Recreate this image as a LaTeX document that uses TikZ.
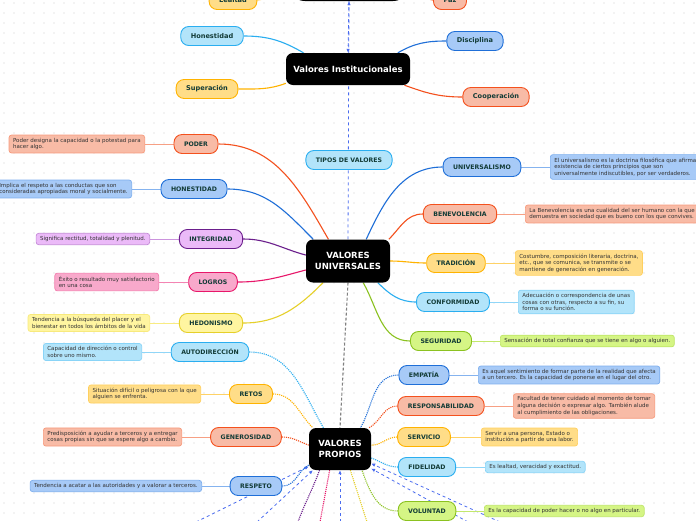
\documentclass[tikz,border=0pt]{standalone}
\usepackage{fontspec}
\setmainfont{DejaVu Sans}
\usetikzlibrary{arrows.meta, positioning, backgrounds}

\definecolor{txt}{HTML}{123B36}
\definecolor{notatxt}{HTML}{333333}
\definecolor{dotc}{HTML}{CFCFCF}
\definecolor{dashblue}{HTML}{4A6CF0}
\definecolor{salmonF}{HTML}{F8BBA6}\definecolor{salmonD}{HTML}{F4511E}
\definecolor{blueF}{HTML}{A7CAF7}\definecolor{blueD}{HTML}{1F6FD8}
\definecolor{cyanF}{HTML}{B2E4FA}\definecolor{cyanD}{HTML}{2AAEF0}
\definecolor{amberF}{HTML}{FFDD88}\definecolor{amberD}{HTML}{FFB300}
\definecolor{purpF}{HTML}{EBBAF8}\definecolor{purpD}{HTML}{6B1E8C}
\definecolor{pinkF}{HTML}{F8A9CB}\definecolor{pinkD}{HTML}{E8176A}
\definecolor{lyelF}{HTML}{FFF5A0}\definecolor{lyelD}{HTML}{E6D02A}
\definecolor{limeF}{HTML}{D5F585}\definecolor{limeD}{HTML}{8BC220}

\tikzset{
	pill/.style={draw=#1D, fill=#1F, line width=0.9pt, rounded corners=8pt,
		minimum height=19pt, inner xsep=10pt, inner ysep=2pt, text=txt,
		font=\fontsize{6.2}{7}\selectfont\bfseries},
	nota/.style={draw=#1D!30!#1F, fill=#1F, line width=0.7pt, rounded corners=2.5pt,
		inner xsep=4pt, inner ysep=3pt, align=left, text=notatxt,
		font=\fontsize{5.5}{6.6}\selectfont},
	link/.style={draw=#1D!25!#1F, line width=1pt},
	conn/.style={draw=#1D, line width=1.1pt},
	dconn/.style={draw=#1D, line width=1.1pt, densely dotted},
	negro/.style={fill=black, text=white, rounded corners=7pt, align=center,
		font=\fontsize{8.5}{11}\selectfont\bfseries},
	reldash/.style={draw=dashblue, line width=0.8pt, dashed, -{Latex[length=4pt,width=3.5pt]}},
}

\begin{document}
\begin{tikzpicture}[x=1pt, y=-1pt]
	\useasboundingbox (0,0) rectangle (696,520);

	% Valores Institucionales
	\node[negro, rounded corners=18pt, minimum width=124pt, minimum height=32pt] (cima) at (349,-15) {};
	\node[negro, minimum width=124pt, minimum height=32pt] (inst) at (348,69) {Valores Institucionales};
	\node[pill=amber, font=\fontsize{6.6}{7}\selectfont\bfseries] (lealtad) at (233,0) {Lealtad};
	\node[pill=salmon, font=\fontsize{6.6}{7}\selectfont\bfseries] (paz) at (450,0) {Paz};
	\node[pill=cyan, font=\fontsize{6.6}{7}\selectfont\bfseries] (honest) at (212,36) {Honestidad};
	\node[pill=amber, font=\fontsize{6.6}{7}\selectfont\bfseries] (superac) at (207,89) {Superación};
	\node[pill=blue, font=\fontsize{6.6}{7}\selectfont\bfseries] (discip) at (475,41) {Disciplina};
	\node[pill=salmon, font=\fontsize{6.6}{7}\selectfont\bfseries] (cooper) at (496,97) {Cooperación};
	\node[pill=cyan] (tipos) at (349,160) {TIPOS DE VALORES};

	% Valores Universales
	\node[negro, minimum width=84pt, minimum height=43pt] (univ) at (348,261) {VALORES\\UNIVERSALES};
	\node[pill=salmon] (poder) at (196,144) {PODER};
	\node[nota=salmon, anchor=east] (poderN) at (145,144) {Poder designa la capacidad o la potestad para\\hacer algo.};
	\node[pill=blue] (hon) at (194,189) {HONESTIDAD};
	\node[nota=blue, anchor=east] (honN) at (132,189) {Implica el respeto a las conductas que son\\consideradas apropiadas moral y socialmente.};
	\node[pill=purp] (integ) at (211,239) {INTEGRIDAD};
	\node[nota=purp, anchor=east] (integN) at (150,239) {Significa rectitud, totalidad y plenitud.};
	\node[pill=pink] (logros) at (213,282) {LOGROS};
	\node[nota=pink, anchor=east] (logrosN) at (159,282) {Éxito o resultado muy satisfactorio\\en una cosa};
	\node[pill=lyel] (hedon) at (211,323) {HEDONISMO};
	\node[nota=lyel, anchor=east] (hedonN) at (150,323) {Tendencia a la búsqueda del placer y el\\bienestar en todos los ámbitos de la vida};
	\node[pill=blue] (unive) at (482,167) {UNIVERSALISMO};
	\node[nota=blue, anchor=west] (uniN) at (550,167) {El universalismo es la doctrina filosófica que afirma la\\existencia de ciertos principios que son\\universalmente indiscutibles, por ser verdaderos.};
	\node[pill=salmon] (benev) at (460,214) {BENEVOLENCIA};
	\node[nota=salmon, anchor=west] (benevN) at (525,214) {La Benevolencia es una cualidad del ser humano con la que\\demuestra en sociedad que es bueno con los que convives.};
	\node[pill=amber] (trad) at (456,263) {TRADICIÓN};
	\node[nota=amber, anchor=west] (tradN) at (515,263) {Costumbre, composición literaria, doctrina,\\etc., que se comunica, se transmite o se\\mantiene de generación en generación.};
	\node[pill=cyan] (conf) at (453,302) {CONFORMIDAD};
	\node[nota=cyan, anchor=west] (confN) at (518,302) {Adecuación o correspondencia de unas\\cosas con otras, respecto a su fin, su\\forma o su función.};
	\node[pill=lime] (segur) at (441,341) {SEGURIDAD};
	\node[nota=lime, anchor=west] (segurN) at (500,341) {Sensación de total confianza que se tiene en algo o alguien.};

	% Valores Propios
	\node[negro, minimum width=62pt, minimum height=42pt] (prop) at (340,449) {VALORES\\PROPIOS};
	\node[pill=cyan] (autod) at (210,352) {AUTODIRECCIÓN};
	\node[nota=cyan, anchor=east] (autodN) at (142,352) {Capacidad de dirección o control\\sobre uno mismo.};
	\node[pill=amber] (retos) at (251,394) {RETOS};
	\node[nota=amber, anchor=east] (retosN) at (201,394) {Situación difícil o peligrosa con la que\\alguien se enfrenta.};
	\node[pill=salmon] (gener) at (246,437) {GENEROSIDAD};
	\node[nota=salmon, anchor=east] (generN) at (182,437) {Predisposición a ayudar a terceros y a entregar\\cosas propias sin que se espere algo a cambio.};
	\node[pill=blue] (resp) at (256,486) {RESPETO};
	\node[nota=blue, anchor=east] (respN) at (202,486) {Tendencia a acatar a las autoridades y a valorar a terceros.};
	\node[pill=blue] (empat) at (424,375) {EMPATÍA};
	\node[nota=blue, anchor=west] (empatN) at (478,375) {Es aquel sentimiento de formar parte de la realidad que afecta\\a un tercero. Es la capacidad de ponerse en el lugar del otro.};
	\node[pill=salmon] (respon) at (441,406) {RESPONSABILIDAD};
	\node[nota=salmon, anchor=west] (responN) at (513,406) {Facultad de tener cuidado al momento de tomar\\alguna decisión o expresar algo. También alude\\al cumplimiento de las obligaciones.};
	\node[pill=amber] (serv) at (424,437) {SERVICIO};
	\node[nota=amber, anchor=west] (servN) at (481,437) {Servir a una persona, Estado o\\institución a partir de una labor.};
	\node[pill=cyan] (fidel) at (427,467) {FIDELIDAD};
	\node[nota=cyan, anchor=west] (fidelN) at (485,467) {Es lealtad, veracidad y exactitud.};
	\node[pill=lime] (volun) at (427,511) {VOLUNTAD};
	\node[nota=lime, anchor=west] (volunN) at (484,511) {Es la capacidad de poder hacer o no algo en particular.};

	% ends off the page
	\coordinate (ext1) at (196,522);
	\coordinate (ext2) at (257,522);
	\coordinate (ext3) at (340,522);
	\coordinate (ext4) at (468,522);
	\coordinate (ext5) at (500,522);
	\coordinate (xpurp) at (298,522);
	\coordinate (xpink) at (320,522);
	\coordinate (xyel) at (367,522);

	\begin{scope}[on background layer]
		\fill[white] (0,0) rectangle (696,520);
		\foreach \i in {0,...,69}
			\foreach \j in {0,...,52}
				\fill[dotc] (\i*10+4,\j*10+3) circle (0.6pt);

		% dashed relations
		\draw[reldash] (univ.north) -- (cima.south);
		\draw[reldash] (cima.south) -- (inst.north);
		\draw[densely dashed, draw=gray, line width=1.1pt] (univ.south) -- (prop.north);
		\draw[reldash] (ext1) -- (prop.209);
		\draw[reldash] (ext2) -- (prop.218);
		\draw[reldash] (ext3) -- (prop.south);
		\draw[reldash] (ext4) -- (prop.328);
		\draw[reldash] (ext5) -- (prop.335);

		% institucionales
		\draw[conn=amber] (lealtad.east) to[out=0,in=200] (cima.175);
		\draw[conn=salmon] (paz.west) to[out=180,in=-20] (cima.5);
		\draw[conn=cyan] (honest.east) to[out=0,in=150] (inst.160);
		\draw[conn=amber] (superac.east) to[out=0,in=200] (inst.193);
		\draw[conn=blue] (discip.west) to[out=180,in=30] (inst.18);
		\draw[conn=salmon] (cooper.west) to[out=180,in=-20] (inst.344);

		% universales
		\draw[conn=salmon] (poder.east) to[out=0,in=120] (univ.132);
		\draw[conn=blue] (hon.east) to[out=0,in=135] (univ.148);
		\draw[conn=purp] (integ.east) to[out=0,in=165] (univ.172);
		\draw[conn=pink] (logros.east) to[out=0,in=195] (univ.192);
		\draw[conn=lyel] (hedon.east) to[out=0,in=225] (univ.221);
		\draw[conn=blue] (unive.west) to[out=180,in=65] (univ.50);
		\draw[conn=salmon] (benev.west) to[out=180,in=45] (univ.28);
		\draw[conn=amber] (trad.west) to[out=180,in=0] (univ.0);
		\draw[conn=cyan] (conf.west) to[out=180,in=-45] (univ.324);
		\draw[conn=lime] (segur.west) to[out=180,in=-60] (univ.305);
		\draw[link=salmon] (poder.west) -- (poderN.east);
		\draw[link=blue] (hon.west) -- (honN.east);
		\draw[link=purp] (integ.west) -- (integN.east);
		\draw[link=pink] (logros.west) -- (logrosN.east);
		\draw[link=lyel] (hedon.west) -- (hedonN.east);
		\draw[link=blue] (unive.east) -- (uniN.west);
		\draw[link=salmon] (benev.east) -- (benevN.west);
		\draw[link=amber] (trad.east) -- (tradN.west);
		\draw[link=cyan] (conf.east) -- (confN.west);
		\draw[link=lime] (segur.east) -- (segurN.west);

		% propios
		\draw[dconn=cyan] (autod.east) to[out=0,in=120] (prop.128);
		\draw[dconn=amber] (retos.east) to[out=0,in=135] (prop.142);
		\draw[dconn=salmon] (gener.east) to[out=0,in=160] (prop.173);
		\draw[dconn=blue] (resp.east) to[out=0,in=210] (prop.207);
		\draw[dconn=blue] (empat.west) to[out=180,in=60] (prop.46);
		\draw[dconn=salmon] (respon.west) to[out=180,in=30] (prop.36);
		\draw[dconn=amber] (serv.west) to[out=180,in=0] (prop.7);
		\draw[dconn=cyan] (fidel.west) to[out=180,in=-20] (prop.344);
		\draw[dconn=lime] (volun.west) to[out=180,in=-70] (prop.316);
		\draw[dconn=purp] (prop.226) to[out=250,in=70] (xpurp);
		\draw[dconn=pink] (prop.244) -- (xpink);
		\draw[dconn=lyel] (prop.296) -- (xyel);
		\draw[link=cyan] (autod.west) -- (autodN.east);
		\draw[link=amber] (retos.west) -- (retosN.east);
		\draw[link=salmon] (gener.west) -- (generN.east);
		\draw[link=blue] (resp.west) -- (respN.east);
		\draw[link=blue] (empat.east) -- (empatN.west);
		\draw[link=salmon] (respon.east) -- (responN.west);
		\draw[link=amber] (serv.east) -- (servN.west);
		\draw[link=cyan] (fidel.east) -- (fidelN.west);
		\draw[link=lime] (volun.east) -- (volunN.west);
	\end{scope}
\end{tikzpicture}
\end{document}
